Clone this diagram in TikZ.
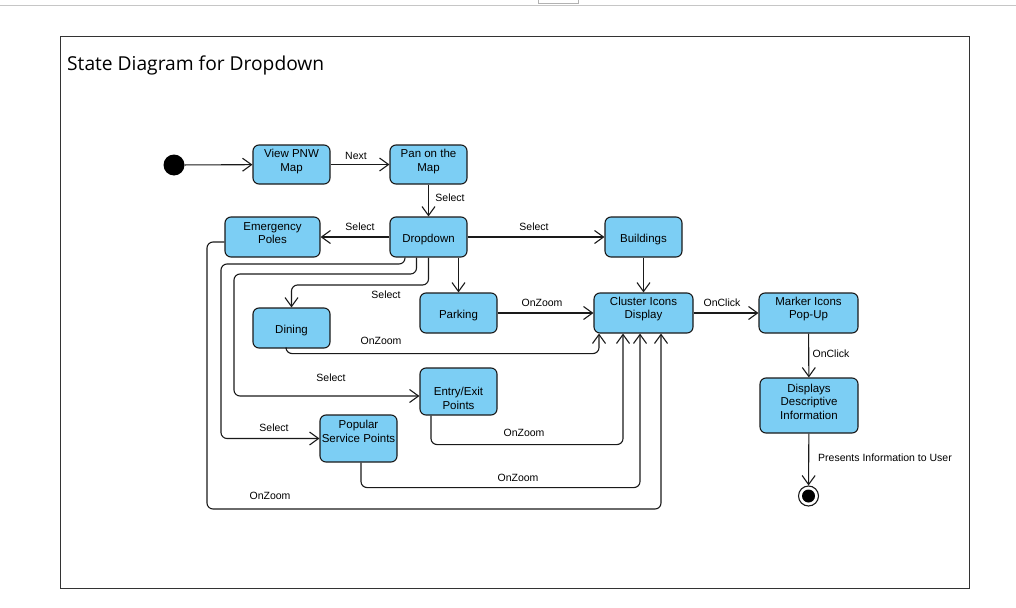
\documentclass[tikz,border=0pt]{standalone}
\usepackage{fontspec}
\setmainfont{Liberation Sans}
\newfontfamily\titlefont{Open Sans}
\usetikzlibrary{arrows.meta}
\definecolor{statefill}{HTML}{7CCEF4}
\definecolor{edgecol}{HTML}{1A1A1A}

\begin{document}
\begin{tikzpicture}
    [x=1pt,y=-1pt,
    state/.style={draw=edgecol, fill=statefill, line width=1.1pt, rounded corners=6pt,
      inner sep=0pt, minimum width=77pt, minimum height=40pt,
      font=\fontsize{11.5}{13.5}\selectfont, align=center, text height=10.2pt, text depth=0pt},
    txt/.style={font=\fontsize{11.5}{13.5}\selectfont, align=center, inner sep=0pt},
    lbl/.style={font=\fontsize{10.5}{12}\selectfont, inner sep=1pt, yshift=-1pt},
    trans/.style={draw=edgecol, line width=1.1pt, rounded corners=6pt,
      -{Straight Barb[length=9pt,width=13pt]}}]
    \useasboundingbox (0,0) rectangle (1016,607);
    % page frame
    \draw[gray!45, line width=1pt] (0,6) -- (1016,6);
    \draw[gray!60, line width=0.8pt] (538,-2) rectangle (578,3);
    \draw[black!80, line width=1pt] (60,37) rectangle (969,588);
    \node[anchor=base west, inner sep=0pt, font=\titlefont\fontsize{19.2}{23}\selectfont]
      (title) at (67,70.7) {State Diagram for Dropdown};
    % states
    \node[circle, fill=black, minimum size=21pt, inner sep=0pt] (init) at (174,165) {};
    \node[state, minimum height=39pt, label={[txt, yshift=3pt]center:View PNW\\Map}]
      (view) at (291.5,164.5) {};
    \node[state, minimum height=39pt, label={[txt, yshift=3pt]center:Pan on the\\Map}]
      (pan) at (428.5,164.5) {};
    \node[state] (dd) at (428.5,237) {Dropdown};
    \node[state, minimum width=95pt, label={[txt, yshift=4pt]center:Emergency\\Poles}]
      (emerg) at (272.5,237) {};
    \node[state] (build) at (643.5,237) {Buildings};
    \node[state] (dining) at (291.5,328) {Dining};
    \node[state] (parking) at (458.5,313) {Parking};
    \node[state, minimum width=99pt, label={[txt, yshift=4pt]center:Cluster Icons\\Display}]
      (cluster) at (643.5,313) {};
    \node[state, minimum width=99pt, label={[txt, yshift=4pt]center:Marker Icons\\Pop-Up}]
      (marker) at (808.5,313) {};
    \node[state, minimum width=98pt, minimum height=55pt,
      label={[txt, yshift=4pt]center:Displays\\Descriptive\\Information}]
      (info) at (809,405.5) {};
    \node[state, minimum height=47pt, label={[txt, yshift=-7pt]center:Entry/Exit\\Points}]
      (entry) at (458.5,391.5) {};
    \node[state, minimum height=47pt, label={[txt, yshift=7pt]center:Popular\\Service Points}]
      (popular) at (358.5,438.5) {};
    \node[circle, draw=edgecol, fill=white, line width=1.1pt, minimum size=20pt, inner sep=0pt,
      path picture={\fill[black] (path picture bounding box.center) circle (6.5pt);}]
      (final) at (808.5,496) {};
    % transitions
    \draw[trans] (init) -- (view);
    \draw[trans] (view) -- (pan);
    \draw[trans] (pan) -- (dd);
    \draw[trans] (dd) -- (emerg);
    \draw[trans] (dd) -- (build);
    \draw[trans] (build) -- (cluster);
    \draw[trans] (parking |- dd.south) -- (parking);
    \draw[trans] (dd.south) |- (291.5,285) -- (dining);
    \draw[trans] ([xshift=-12pt]dd.south) |- (234,274) |- (entry.west |- 0,396);
    \draw[trans] ([xshift=-23.5pt]dd.south) |- (221,264) |- (popular.west);
    \draw[trans] (parking) -- (cluster);
    \draw[trans] ([xshift=-5.5pt]dining.south) -- ++(0,5) -| ([xshift=-44.5pt]cluster.south);
    \draw[trans] ([xshift=-27.5pt]entry.south) -- ++(0,29) -| ([xshift=-20.5pt]cluster.south);
    \draw[trans] ([xshift=2.5pt]popular.south) -- ++(0,25) -| ([xshift=-3.5pt]cluster.south);
    \draw[trans] ([yshift=-5pt]emerg.west) -| (207,509) -| ([xshift=17.5pt]cluster.south);
    \draw[trans] (cluster) -- (marker);
    \draw[trans] (marker) -- (info);
    \draw[trans] (info) -- (final);
    % labels
    \node[lbl] (lnext) at (356,155) {Next};
    \node[lbl] (lsel1) at (450,197) {Select};
    \node[lbl] (lsel2) at (360,226) {Select};
    \node[lbl] (lsel3) at (534,226) {Select};
    \node[lbl] (lsel4) at (386,294) {Select};
    \node[lbl] (lsel5) at (331,377) {Select};
    \node[lbl] (lsel6) at (274,427) {Select};
    \node[lbl] (lzoom1) at (542,302) {OnZoom};
    \node[lbl] (lzoom2) at (381,340) {OnZoom};
    \node[lbl] (lzoom3) at (524,432) {OnZoom};
    \node[lbl] (lzoom4) at (518,477) {OnZoom};
    \node[lbl] (lzoom5) at (270,495) {OnZoom};
    \node[lbl] (lclick1) at (722,302) {OnClick};
    \node[lbl] (lclick2) at (831,353) {OnClick};
    \node[lbl] (lpres) at (885,457) {Presents Information to User};
  \end{tikzpicture}
\end{document}
